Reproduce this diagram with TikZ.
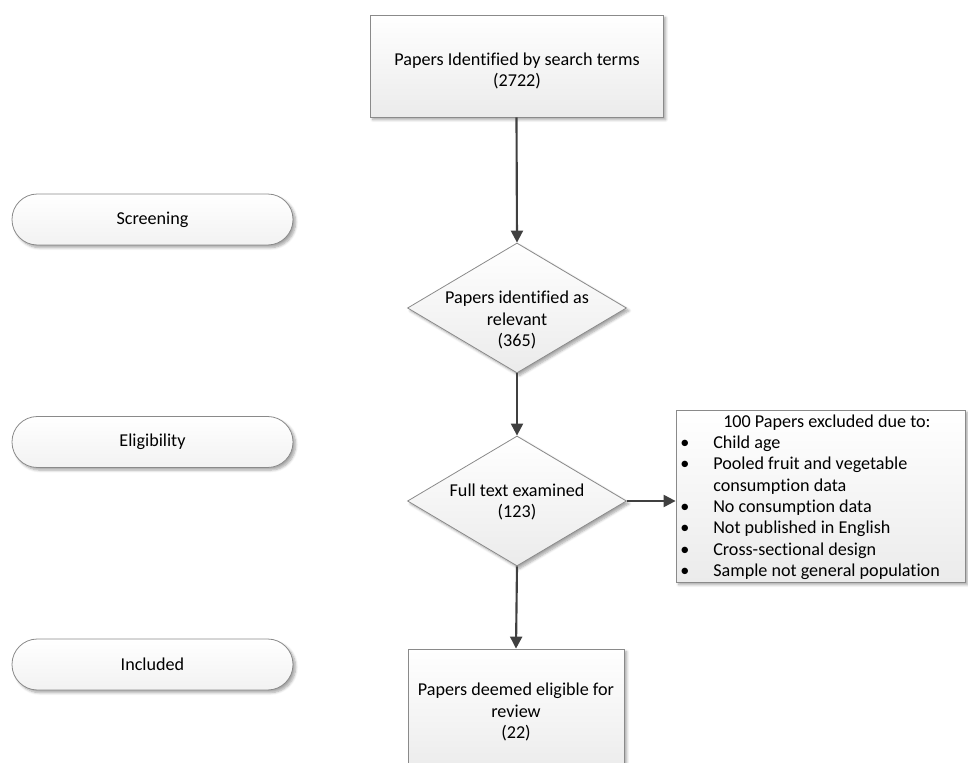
\documentclass[tikz,border=0pt]{standalone}
\usepackage{fontspec}
\setmainfont{Carlito}[Ligatures={NoCommon}]
\usetikzlibrary{shapes.geometric,arrows.meta,shadows.blur}
\definecolor{edgecol}{HTML}{8A8A8A}
\definecolor{arrcol}{HTML}{404040}
\definecolor{fillbot}{HTML}{EBEBEB}
\definecolor{pillbot}{HTML}{F2F2F2}
\begin{document}
\begin{tikzpicture}[x=0.75pt,y=-0.75pt,
  every node/.style={font=\fontsize{13.6}{16}\selectfont, text=black},
  softshadow/.style={blur shadow={shadow xshift=2pt,shadow yshift=-2pt,shadow blur steps=6,shadow opacity=35}},
  flowbox/.style={rectangle, draw=edgecol, line width=0.6pt, top color=white, bottom color=fillbot, softshadow, inner sep=0pt, align=center},
  dia/.style={diamond, draw=edgecol, line width=0.6pt, top color=white, bottom color=fillbot, softshadow, inner sep=0pt, minimum width=164.25pt, minimum height=97.5pt},
  pill/.style={rectangle, rounded corners=19pt, draw=edgecol, line width=0.6pt, top color=white, bottom color=pillbot, softshadow, minimum width=210.75pt, minimum height=38.25pt},
  arrow/.style={draw=arrcol, line width=1.6pt, -{Triangle[length=9pt,width=9pt]}}
]
\useasboundingbox (0,0) rectangle (968,763);
\clip (0,0) rectangle (968,763);

% stage pills
\node[pill] (screening) at (152.5,219.5) {Screening};
\node[pill] (eligibility) at (152.5,442) {Eligibility};
\node[pill] (included) at (152.5,664.5) {Included};

% flow
\node[flowbox, minimum width=219.75pt, minimum height=76.5pt] (search) at (516.5,66) {};
\node[align=center, inner sep=0pt] (searchtext) at (517,71) {Papers Identified by search terms\\(2722)};
\node[dia] (relevant) at (517,308) {};
\node[align=center, inner sep=0pt] (relevanttext) at (517,320) {Papers identified as\\relevant\\(365)};
\node[dia] (fulltext) at (517,501) {};
\node[align=center, inner sep=0pt] (fulltexttext) at (517,502) {Full text examined\\(123)};
\node[flowbox, minimum width=162pt, minimum height=94.5pt] (eligible) at (516,712) {Papers deemed eligible for\\review\\(22)};

% exclusion box
\node[flowbox, minimum width=216.75pt, minimum height=129pt] (excluded) at (820.5,496) {};
\node[anchor=north west, inner sep=0pt] (excludedtext) at (678,412) {%
\begin{tabular}{@{}p{26.25pt}@{}l@{}}
\multicolumn{2}{@{}l@{}}{\hspace{33.75pt}100 Papers excluded due to:}\\
\hspace{1.5pt}\textbullet & Child age\\
\hspace{1.5pt}\textbullet & Pooled fruit and vegetable\\
 & consumption data\\
\hspace{1.5pt}\textbullet & No consumption data\\
\hspace{1.5pt}\textbullet & Not published in English\\
\hspace{1.5pt}\textbullet & Cross-sectional design\\
\hspace{1.5pt}\textbullet & Sample not general population
\end{tabular}};

% connectors
\draw[arrow] (search.south) -- (relevant.north);
\draw[arrow] (relevant.south) -- (fulltext.north);
\draw[arrow] (fulltext.south) -- (eligible.north);
\draw[arrow] (fulltext.east) -- (fulltext.east -| excluded.west);
\end{tikzpicture}
\end{document}
